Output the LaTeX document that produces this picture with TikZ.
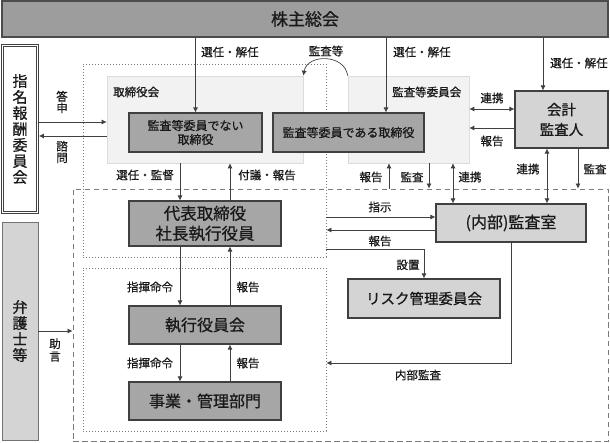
\documentclass[tikz,border=0pt]{standalone}
\usepackage{fontspec}
\newfontfamily\jp[FakeBold=0.7]{Noto Sans CJK JP}
\usetikzlibrary{arrows.meta}
\definecolor{linec}{HTML}{404040}
\definecolor{topc}{HTML}{9D9D9D}
\definecolor{darkc}{HTML}{A6A6A6}
\definecolor{lightc}{HTML}{D4D4D4}
\definecolor{bgc}{HTML}{F2F2F2}
\definecolor{bgline}{HTML}{DCDCDC}
\definecolor{dotc}{HTML}{7A7A7A}
\begin{document}
\begin{tikzpicture}[x=1pt,y=-1pt,
  every node/.style={inner sep=0pt, text=black!90},
  boxbase/.style={draw=linec, line width=1.1pt, align=center},
  topbox/.style={boxbase, fill=topc, draw=black!70, font=\jp\fontsize{17}{20}\selectfont},
  darkbox/.style={boxbase, fill=darkc},
  lightbox/.style={boxbase, fill=lightc},
  bgbox/.style={fill=bgc, draw=bgline, line width=0.6pt},
  outbox/.style={draw=linec, line width=0.8pt, fill=white, align=center},
  dotbox/.style={draw=dotc, line width=0.8pt, dash pattern=on 0.9pt off 2.1pt},
  dashbox/.style={draw=dotc, line width=0.8pt, dash pattern=on 5.5pt off 3.5pt},
  lbl/.style={font=\jp\fontsize{11.5}{12}\selectfont},
  vlbl/.style={align=center, font=\jp\fontsize{11.5}{11.5}\selectfont},
  arr/.style={draw=linec, line width=0.7pt, -{Latex[length=5pt,width=5pt]}},
  darr/.style={draw=linec, line width=0.7pt, {Latex[length=5pt,width=5pt]}-{Latex[length=5pt,width=5pt]}},
  ln/.style={draw=linec, line width=0.7pt}
]
\useasboundingbox (0,0) rectangle (610,443);

% region frames
\node[dashbox, minimum width=535pt, minimum height=252pt] (ops) at (340.5,315) {};
\node[dotbox, minimum width=243pt, minimum height=193pt] (bd) at (204.5,160.5) {};
\node[dotbox, minimum width=243pt, minimum height=163pt] (ex) at (204.5,349.5) {};

% top bar
\node[topbox, minimum width=606pt, minimum height=36pt] (top) at (305,19) {株主総会};

% left boxes
\node[outbox, minimum width=37pt, minimum height=169pt, font=\jp\fontsize{15}{16}\selectfont] (nom) at (20,129) {指\\名\\報\\酬\\委\\員\\会};
\draw[ln, line width=0.8pt] ([xshift=2.6pt,yshift=-2.6pt]nom.north west) rectangle ([xshift=-2.6pt,yshift=2.6pt]nom.south east);
\node[lightbox, draw=black!55, line width=0.8pt, minimum width=36pt, minimum height=218pt, font=\jp\fontsize{15}{16}\selectfont] (law) at (20,331) {弁\\護\\士\\等};

% board backgrounds
\node[bgbox, minimum width=196pt, minimum height=87pt] (boardbg) at (205,119.5) {};
\node[bgbox, minimum width=121pt, minimum height=87pt] (auditbg) at (408.5,119.5) {};
\node[lbl, anchor=west] (boardlbl) at (113,92) {取締役会};
\node[lbl, anchor=west] (auditlbl) at (392,92) {監査等委員会};

% director boxes
\node[darkbox, minimum width=133pt, minimum height=39pt, font=\jp\fontsize{12}{14}\selectfont] (nonaudit) at (195.5,132.5) {監査等委員でない\\取締役};
\node[darkbox, minimum width=151pt, minimum height=39pt, font=\jp\fontsize{12}{14}\selectfont] (auditdir) at (348.5,132.5) {監査等委員である取締役};

% accounting auditor
\node[lightbox, minimum width=93pt, minimum height=57pt, font=\jp\fontsize{14.5}{20}\selectfont] (kaikei) at (561.5,119.5) {会計\\監査人};

% execution
\node[darkbox, minimum width=152pt, minimum height=45pt, font=\jp\fontsize{16.5}{20}\selectfont] (ceo) at (205,223.5) {代表取締役\\社長執行役員};
\node[darkbox, minimum width=152pt, minimum height=38pt, font=\jp\fontsize{16}{18}\selectfont] (exec) at (205,325) {執行役員会};
\node[darkbox, minimum width=152pt, minimum height=38pt, font=\jp\fontsize{16}{18}\selectfont] (biz) at (205,401) {事業・管理部門};

\node[lightbox, minimum width=150pt, minimum height=38pt, font=\jp\fontsize{16}{18}\selectfont] (kansa) at (511,223) {(内部)監査室};
\node[lightbox, minimum width=152pt, minimum height=39pt, font=\jp\fontsize{14.5}{18}\selectfont] (risk) at (424,298.5) {リスク管理委員会};

% helper coordinates
\coordinate (xA) at (386,0);
\coordinate (xK) at (543,0);
\coordinate (xL) at (180,0);
\coordinate (xR) at (230,0);
\coordinate (xRep) at (389,0);
\coordinate (xAud) at (429,0);
\coordinate (xCo) at (453,0);
\coordinate (xCo2) at (547,0);
\coordinate (xAud2) at (578,0);
\coordinate (y109) at (0,109);
\coordinate (y122) at (0,122);
\coordinate (y128) at (0,128);
\coordinate (y136) at (0,136);
\coordinate (y217) at (0,217);
\coordinate (y230) at (0,230);
\coordinate (y249) at (0,249);
\coordinate (y331) at (0,331);
\coordinate (y363) at (0,363);

% shareholders -> directors / auditor
\draw[arr] (top.south -| nonaudit.north) -- (nonaudit.north);
\node[lbl, anchor=west] (l1) at (201,52) {選任・解任};
\draw[arr] (top.south -| xA) -- (auditdir.north -| xA);
\node[lbl, anchor=west] (l2) at (393,52) {選任・解任};
\draw[arr] (top.south -| xK) -- (kaikei.north -| xK);
\node[lbl, anchor=west] (l3) at (550,63) {選任・解任};

% audit arc
\draw[arr] (auditbg.north west) .. controls +(-3,-22) and +(4,-22) .. (boardbg.north east);
\node[lbl] (l4) at (326,51) {監査等};

% nomination committee
\draw[arr] (nom.east |- y122) -- (boardbg.west |- y122);
\node[vlbl] (l5) at (62,102) {答\\申};
\draw[arr] (boardbg.west |- y136) -- (nom.east |- y136);
\node[vlbl] (l6) at (62,152) {諮\\問};

% audit committee <-> accounting auditor
\draw[darr] (auditbg.east |- y109) -- (kaikei.west |- y109);
\node[lbl] (l7) at (492,98) {連携};
\draw[arr] (kaikei.west |- y128) -- (auditbg.east |- y128);
\node[lbl] (l8) at (492,141) {報告};

% board <-> CEO
\draw[arr] (boardbg.south -| xL) -- (ceo.north -| xL);
\node[lbl] (l9) at (145,175) {選任・監督};
\draw[arr] (ceo.north -| xR) -- (boardbg.south -| xR);
\node[lbl] (l10) at (267,175) {付議・報告};

% audit committee links
\draw[arr] (ops.north -| xRep) -- (auditbg.south -| xRep);
\node[lbl] (l11) at (371,177) {報告};
\draw[arr] (auditbg.south -| xAud) -- (ops.north -| xAud);
\node[lbl] (l12) at (412,177) {監査};
\draw[darr] (auditbg.south -| xCo) -- (kansa.north -| xCo);
\node[lbl] (l13) at (470,177) {連携};
\draw[darr] (kaikei.south -| xCo2) -- (kansa.north -| xCo2);
\node[lbl] (l14) at (528,169) {連携};
\draw[arr] (kaikei.south -| xAud2) -- (ops.north -| xAud2);
\node[lbl] (l15) at (595,169) {監査};

% internal audit office
\draw[arr] (bd.east |- y217) -- (kansa.west |- y217);
\node[lbl] (l16) at (380,207) {指示};
\draw[arr] (kansa.west |- y230) -- (bd.east |- y230);
\node[lbl] (l17) at (380,241) {報告};
\draw[arr] (bd.east |- y249) -| (risk.north);
\node[lbl] (l18) at (408,265) {設置};
\draw[arr] (kansa.south) |- (ex.east |- y363);
\node[lbl] (l19) at (418,375) {内部監査};

% execution chain
\draw[arr] (ceo.south -| xL) -- (exec.north -| xL);
\node[lbl] (l20) at (150,287) {指揮命令};
\draw[arr] (exec.north -| xR) -- (ceo.south -| xR);
\node[lbl] (l21) at (248,287) {報告};
\draw[arr] (exec.south -| xL) -- (biz.north -| xL);
\node[lbl] (l22) at (150,363) {指揮命令};
\draw[arr] (biz.north -| xR) -- (exec.south -| xR);
\node[lbl] (l23) at (248,363) {報告};

% lawyers
\draw[arr] (law.east |- y331) -- (ops.west |- y331);
\node[vlbl, font=\jp\fontsize{11.5}{12.5}\selectfont] (l24) at (55,350) {助\\言};
\end{tikzpicture}
\end{document}
